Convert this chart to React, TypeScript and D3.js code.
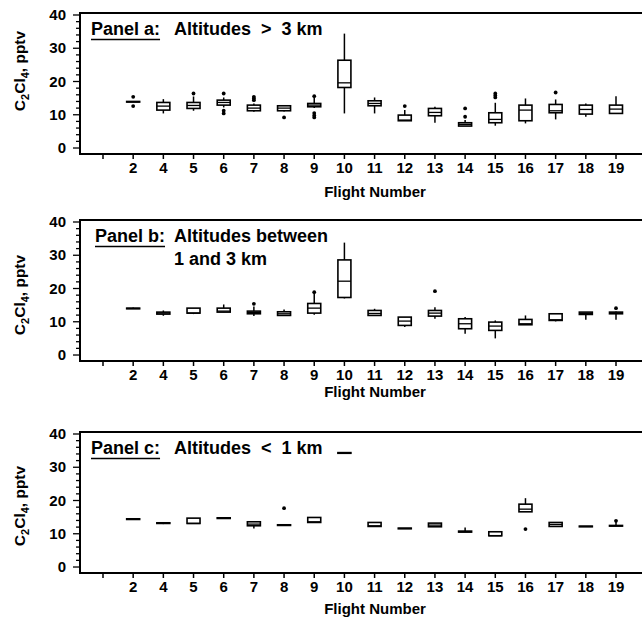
import React, { useEffect, useRef } from 'react'
import * as d3 from 'd3'

// flight numbers (first tick on the axis has no label)
const flights = ['2', '4', '5', '6', '7', '8', '9', '10', '11', '12', '13', '14', '15', '16', '17', '18', '19']
const tickKeys = [' ', ...flights]
const yTicks = [0, 10, 20, 30, 40]

// Panel a: altitudes > 3 km
const aQ1 = [13.9, 11.4, 11.9, 12.9, 11.2, 11.2, 12.4, 18.2, 12.7, 8.2, 9.7, 6.6, 7.6, 8.2, 10.6, 10.2, 10.4]
const aMed = [13.9, 12.6, 12.8, 13.7, 12.0, 12.0, 12.9, 19.6, 13.4, 8.4, 10.7, 7.1, 8.6, 11.4, 11.2, 11.6, 11.7]
const aQ3 = [14.0, 13.7, 13.7, 14.4, 12.9, 12.7, 13.4, 26.4, 14.2, 9.9, 11.9, 7.6, 10.6, 12.9, 13.1, 12.9, 12.9]
const aLo = [13.9, 10.4, 11.2, 12.2, 10.9, 11.0, 12.0, 10.4, 10.4, 8.2, 7.6, 6.6, 6.7, 7.4, 8.6, 9.4, 10.4]
const aHi = [14.0, 14.7, 15.5, 15.2, 13.4, 12.9, 15.2, 34.4, 15.2, 11.4, 12.4, 8.4, 13.6, 14.9, 14.6, 13.4, 15.6]
const aOut = [[15.4, 12.6], [], [16.4], [16.4, 11.2, 10.4], [15.4, 14.9, 14.4], [9.2], [15.6, 10.5, 9.8, 9.2], [], [], [12.6], [], [11.9, 9.4], [16.4, 15.8, 15.2], [], [16.7], [], []]

// Panel b: altitudes between 1 and 3 km
const bQ1 = [13.9, 12.3, 12.6, 12.9, 12.4, 11.9, 12.6, 17.3, 11.9, 8.9, 11.7, 7.9, 7.4, 9.1, 10.4, 12.2, 12.4]
const bMed = [14.0, 12.6, 12.6, 13.2, 12.8, 12.4, 14.1, 22.2, 12.5, 10.2, 12.6, 9.4, 8.7, 9.4, 10.6, 12.5, 12.6]
const bQ3 = [14.1, 12.9, 14.1, 14.1, 13.2, 13.0, 15.5, 28.6, 13.4, 11.4, 13.4, 10.9, 9.9, 10.7, 12.4, 12.9, 12.9]
const bLo = [13.9, 11.8, 12.3, 12.9, 11.7, 11.7, 12.1, 17.0, 11.9, 8.4, 10.9, 6.4, 5.0, 9.1, 10.1, 10.6, 10.6]
const bHi = [14.3, 13.4, 14.1, 15.2, 14.6, 13.7, 18.6, 33.8, 13.9, 11.4, 14.4, 11.4, 10.4, 11.9, 12.4, 12.9, 13.1]
const bOut = [[], [], [], [], [15.4], [], [18.9], [], [], [], [19.2], [], [], [], [], [], [14.1]]

// Panel c: altitudes < 1 km
const cQ1 = [14.3, 13.1, 13.1, 14.6, 12.4, 12.5, 13.4, 34.2, 12.2, 11.5, 12.1, 10.5, 9.4, 16.6, 12.2, 12.1, 12.3]
const cMed = [14.4, 13.2, 13.1, 14.7, 12.9, 12.6, 13.6, 34.3, 12.4, 11.6, 12.6, 10.6, 9.4, 17.4, 12.8, 12.2, 12.4]
const cQ3 = [14.5, 13.3, 14.7, 14.8, 13.6, 12.7, 14.9, 34.4, 13.4, 11.7, 13.2, 10.8, 10.6, 18.9, 13.4, 12.3, 12.5]
const cLo = [14.3, 12.9, 13.1, 14.6, 11.6, 12.5, 13.4, 34.2, 12.2, 11.5, 12.1, 10.5, 9.4, 16.6, 12.2, 12.1, 12.3]
const cHi = [14.5, 13.3, 14.7, 14.8, 13.6, 12.7, 14.9, 34.4, 13.4, 11.7, 13.2, 11.9, 10.6, 20.7, 13.4, 12.3, 13.6]
const cOut = [[], [], [], [], [], [17.7], [], [], [], [], [], [], [], [11.4], [], [], [13.9]]

const panelNames = ['Panel a:', 'Panel b:', 'Panel c:']
const panelTitles = [['Altitudes  >  3 km'], ['Altitudes between', '1 and 3 km'], ['Altitudes  <  1 km']]

export default function App() {
    const svgRef = useRef(null)

    useEffect(() => {
        const width = 642
        const height = 620
        const left = 80
        const panelTops = [13, 220, 432]
        const panelH = 141
        const xLabelGap = [43, 36, 41]
        const yLabelCenter = [71, 295, 506]
        const boxW = 13
        const font = 'Liberation Sans, Arial, Helvetica, sans-serif'

        const svg = d3.select(svgRef.current)
            .attr('width', width)
            .attr('height', height)
        svg.selectAll('*').remove()

        const xScale = d3.scalePoint().domain(tickKeys).range([103, 616])

        const panels = [
            { q1: aQ1, med: aMed, q3: aQ3, lo: aLo, hi: aHi, out: aOut },
            { q1: bQ1, med: bMed, q3: bQ3, lo: bLo, hi: bHi, out: bOut },
            { q1: cQ1, med: cMed, q3: cQ3, lo: cLo, hi: cHi, out: cOut },
        ]

        panels.forEach((p, pi) => {
            const top = panelTops[pi]
            const bottom = top + panelH
            const yScale = d3.scaleLinear().domain([-1.8, 40.6]).range([bottom, top])
            const g = svg.append('g').attr('font-family', font).attr('font-weight', 'bold')

            // frame: left axis, bottom axis, top line
            g.append('line').attr('x1', left).attr('x2', width).attr('y1', top).attr('y2', top)
                .attr('stroke', '#000').attr('stroke-width', 2)
            g.append('line').attr('x1', left).attr('x2', width).attr('y1', bottom).attr('y2', bottom)
                .attr('stroke', '#000').attr('stroke-width', 2)
            g.append('line').attr('x1', left).attr('x2', left).attr('y1', top - 1).attr('y2', bottom + 1)
                .attr('stroke', '#000').attr('stroke-width', 2)

            // y ticks: minor every 2, major every 10
            const minor = d3.range(0, 41, 2)
            g.selectAll('.ytick')
                .data(minor)
                .enter()
                .append('line')
                .attr('x1', (d) => (d % 10 === 0 ? left - 7 : left - 4))
                .attr('x2', left)
                .attr('y1', (d) => yScale(d))
                .attr('y2', (d) => yScale(d))
                .attr('stroke', '#000')
                .attr('stroke-width', 1.3)

            g.selectAll('.ylab')
                .data(yTicks)
                .enter()
                .append('text')
                .attr('x', 66)
                .attr('y', (d) => yScale(d) + 5)
                .attr('text-anchor', 'end')
                .attr('font-size', 15)
                .text((d) => d)

            // x ticks
            g.selectAll('.xtick')
                .data(tickKeys)
                .enter()
                .append('line')
                .attr('x1', (d) => xScale(d))
                .attr('x2', (d) => xScale(d))
                .attr('y1', bottom)
                .attr('y2', bottom + 5)
                .attr('stroke', '#000')
                .attr('stroke-width', 1.5)

            g.selectAll('.xlab')
                .data(tickKeys)
                .enter()
                .append('text')
                .attr('x', (d) => xScale(d))
                .attr('y', bottom + 19)
                .attr('text-anchor', 'middle')
                .attr('font-size', 15)
                .text((d) => d.trim())

            g.append('text')
                .attr('x', 375)
                .attr('y', bottom + xLabelGap[pi])
                .attr('text-anchor', 'middle')
                .attr('font-size', 15)
                .text('Flight Number')

            // y axis title with subscripts
            const yt = g.append('text')
                .attr('transform', `translate(25, ${yLabelCenter[pi]}) rotate(-90)`)
                .attr('text-anchor', 'middle')
                .attr('font-size', 15.5)
            yt.append('tspan').text('C')
            yt.append('tspan').attr('font-size', 11).attr('dy', 4).text('2')
            yt.append('tspan').attr('dy', -4).text('Cl')
            yt.append('tspan').attr('font-size', 11).attr('dy', 4).text('4')
            yt.append('tspan').attr('dy', -4).text(', pptv')

            // panel title
            const nameX = pi === 1 ? 95 : 91
            const nameY = top + 22
            const name = g.append('text')
                .attr('x', nameX)
                .attr('y', nameY)
                .attr('font-size', 18)
                .text(panelNames[pi])
            const nw = (name.node() as SVGTextElement).getComputedTextLength()
            g.append('line')
                .attr('x1', nameX).attr('x2', nameX + nw)
                .attr('y1', nameY + 4.5).attr('y2', nameY + 4.5)
                .attr('stroke', '#000').attr('stroke-width', 1.5)
            panelTitles[pi].forEach((t, ti) => {
                g.append('text')
                    .attr('x', 174)
                    .attr('y', nameY + ti * 23)
                    .attr('font-size', 18)
                    .style('white-space', 'pre')
                    .text(t)
            })

            // box plots
            const boxes = g.selectAll('.box')
                .data(flights)
                .enter()
                .append('g')
                .attr('transform', (d) => `translate(${xScale(d)}, 0)`)

            boxes.append('line')
                .attr('y1', (d, i) => yScale(p.lo[i]))
                .attr('y2', (d, i) => yScale(p.hi[i]))
                .attr('stroke', '#000')
                .attr('stroke-width', 1.5)

            boxes.append('rect')
                .attr('x', -boxW / 2)
                .attr('width', boxW)
                .attr('y', (d, i) => yScale(p.q3[i]))
                .attr('height', (d, i) => Math.max(0.6, yScale(p.q1[i]) - yScale(p.q3[i])))
                .attr('fill', '#fff')
                .attr('stroke', '#000')
                .attr('stroke-width', 1.6)

            boxes.append('line')
                .attr('x1', -boxW / 2)
                .attr('x2', boxW / 2)
                .attr('y1', (d, i) => yScale(p.med[i]))
                .attr('y2', (d, i) => yScale(p.med[i]))
                .attr('stroke', '#000')
                .attr('stroke-width', 1.3)

            boxes.each(function (d, i) {
                d3.select(this)
                    .selectAll('circle')
                    .data(p.out[i])
                    .enter()
                    .append('circle')
                    .attr('cy', (v) => yScale(v))
                    .attr('r', 1.9)
                    .attr('fill', '#000')
            })
        })
    }, [])

    return (
        <div style={{ position: 'absolute', left: 0, top: 0, background: '#fff' }}>
            <svg ref={svgRef} style={{ display: 'block' }} />
        </div>
    )
}
